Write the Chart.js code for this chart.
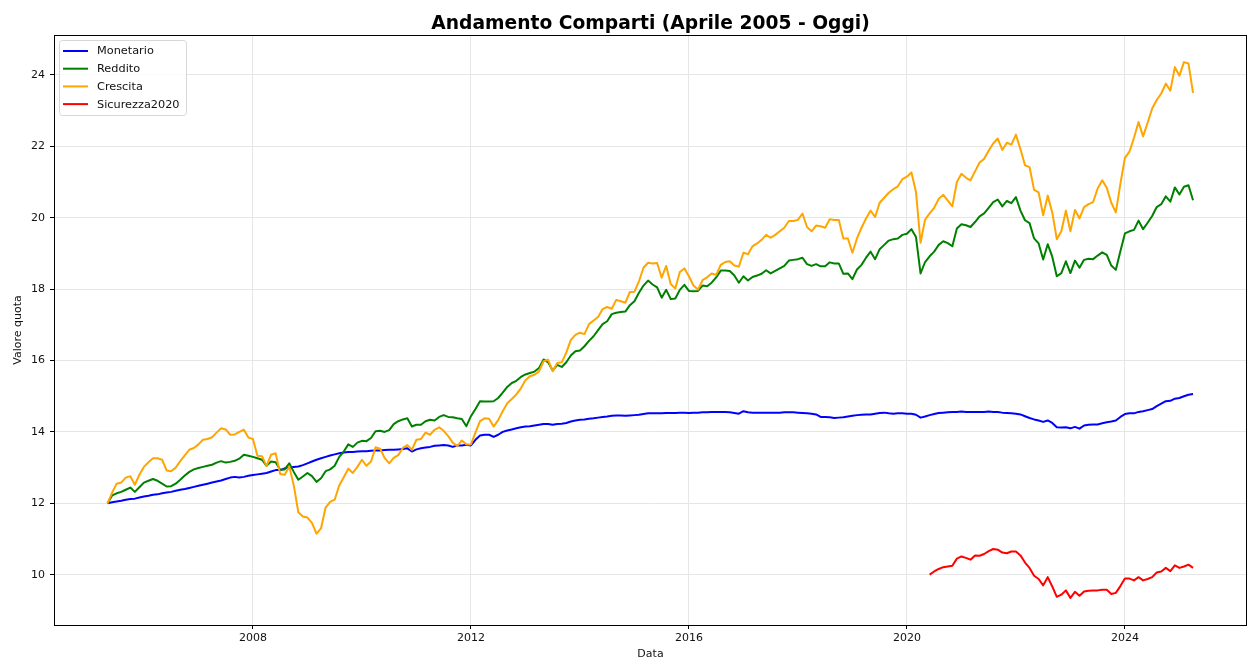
<!DOCTYPE html>
<html>
<head>
<meta charset="utf-8">
<script src="https://cdn.jsdelivr.net/npm/chart.js@4/dist/chart.umd.min.js"></script>
<style>
  html, body { margin: 0; padding: 0; background: #fff; }
  #wrap { width: 1250px; height: 660px; position: relative; }
</style>
</head>
<body>
<div id="wrap"><canvas id="comparti"></canvas></div>
<script>
// valori quota mensili, da aprile 2005 (una riga = 12 mesi)
const startYear = 2005;
const startMonth = 4;

const monetario = [
  12.00, 12.03, 12.05, 12.07, 12.10, 12.12, 12.13, 12.16, 12.19, 12.21, 12.24, 12.25,
  12.28, 12.30, 12.32, 12.35, 12.38, 12.40, 12.43, 12.46, 12.49, 12.52, 12.55, 12.58,
  12.61, 12.64, 12.68, 12.72, 12.74, 12.72, 12.74, 12.77, 12.79, 12.81, 12.83, 12.85,
  12.89, 12.93, 12.93, 12.98, 13.00, 13.02, 13.03, 13.07, 13.12, 13.17, 13.22, 13.26,
  13.30, 13.34, 13.37, 13.40, 13.42, 13.44, 13.44, 13.45, 13.46, 13.46, 13.47, 13.48,
  13.48, 13.49, 13.50, 13.50, 13.51, 13.52, 13.54, 13.45, 13.51, 13.54, 13.56, 13.58,
  13.61, 13.62, 13.63, 13.62, 13.58, 13.62, 13.62, 13.64, 13.62, 13.78, 13.90, 13.92,
  13.92, 13.86, 13.92, 14.00, 14.04, 14.07, 14.10, 14.13, 14.15, 14.16, 14.18, 14.20,
  14.22, 14.22, 14.20, 14.22, 14.23, 14.25, 14.29, 14.32, 14.34, 14.35, 14.37, 14.38,
  14.40, 14.42, 14.43, 14.45, 14.46, 14.46, 14.45, 14.46, 14.47, 14.48, 14.50, 14.52,
  14.52, 14.52, 14.52, 14.53, 14.53, 14.53, 14.54, 14.54, 14.53, 14.54, 14.54, 14.55,
  14.55, 14.56, 14.56, 14.56, 14.56, 14.55, 14.53, 14.51, 14.58, 14.55, 14.54, 14.54,
  14.54, 14.54, 14.54, 14.54, 14.54, 14.55, 14.55, 14.55, 14.54, 14.53, 14.52, 14.51,
  14.49, 14.42, 14.42, 14.41, 14.39, 14.40, 14.41, 14.43, 14.45, 14.47, 14.48, 14.49,
  14.49, 14.51, 14.53, 14.54, 14.52, 14.51, 14.52, 14.52, 14.51, 14.51, 14.48, 14.40,
  14.43, 14.47, 14.50, 14.53, 14.54, 14.55, 14.56, 14.56, 14.57, 14.56, 14.56, 14.56,
  14.56, 14.56, 14.57, 14.56, 14.56, 14.54, 14.53, 14.52, 14.51, 14.49, 14.44, 14.39,
  14.35, 14.32, 14.28, 14.32, 14.25, 14.13, 14.12, 14.13, 14.10, 14.14, 14.09, 14.18,
  14.20, 14.21, 14.21, 14.24, 14.27, 14.29, 14.32, 14.42, 14.50, 14.52, 14.52, 14.56,
  14.58, 14.61, 14.64, 14.72, 14.79, 14.86, 14.87, 14.93, 14.95, 15.00, 15.04, 15.06
];

const reddito = [
  12.00, 12.22, 12.28, 12.32, 12.38, 12.44, 12.32, 12.45, 12.58, 12.63, 12.68, 12.63,
  12.55, 12.47, 12.48, 12.55, 12.66, 12.78, 12.88, 12.95, 12.99, 13.02, 13.05, 13.08,
  13.14, 13.18, 13.14, 13.16, 13.19, 13.25, 13.36, 13.33, 13.30, 13.26, 13.22, 13.05,
  13.17, 13.15, 12.94, 12.95, 13.12, 12.88, 12.66, 12.75, 12.85, 12.76, 12.60, 12.70,
  12.90, 12.95, 13.05, 13.30, 13.45, 13.65, 13.58, 13.70, 13.75, 13.74, 13.83, 14.02,
  14.03, 14.00, 14.05, 14.22, 14.30, 14.35, 14.38, 14.15, 14.20, 14.20, 14.30, 14.34,
  14.32, 14.42, 14.47, 14.42, 14.41, 14.38, 14.36, 14.16, 14.44, 14.64, 14.86, 14.85,
  14.85, 14.86, 14.95, 15.10, 15.26, 15.37, 15.43, 15.54, 15.61, 15.65, 15.69, 15.79,
  16.03, 15.95, 15.72, 15.88, 15.82, 15.95, 16.14, 16.26, 16.28, 16.40, 16.55, 16.68,
  16.85, 17.02, 17.10, 17.30, 17.34, 17.36, 17.37, 17.55, 17.66, 17.90, 18.10, 18.24,
  18.13, 18.05, 17.76, 17.98, 17.72, 17.74, 17.98, 18.12, 17.95, 17.94, 17.95, 18.10,
  18.08, 18.18, 18.33, 18.52, 18.52, 18.51, 18.38, 18.18, 18.36, 18.24, 18.34, 18.38,
  18.43, 18.53, 18.44, 18.51, 18.58, 18.65, 18.80, 18.82, 18.84, 18.88, 18.70, 18.65,
  18.70, 18.64, 18.64, 18.75, 18.72, 18.72, 18.43, 18.44, 18.28, 18.55, 18.68, 18.88,
  19.05, 18.84, 19.12, 19.24, 19.36, 19.40, 19.42, 19.52, 19.55, 19.68, 19.46, 18.44,
  18.76, 18.92, 19.05, 19.24, 19.34, 19.29, 19.20, 19.70, 19.82, 19.79, 19.74, 19.88,
  20.04, 20.12, 20.28, 20.44, 20.51, 20.32, 20.47, 20.41, 20.58, 20.20, 19.93, 19.85,
  19.42, 19.28, 18.83, 19.26, 18.91, 18.36, 18.45, 18.78, 18.45, 18.80, 18.60, 18.82,
  18.85, 18.84, 18.94, 19.03, 18.96, 18.66, 18.54, 19.06, 19.56, 19.62, 19.66, 19.92,
  19.68, 19.86, 20.05, 20.30, 20.38, 20.60, 20.45, 20.85, 20.65, 20.87, 20.91, 20.49
];

const crescita = [
  12.00, 12.30, 12.55, 12.58, 12.72, 12.76, 12.52, 12.80, 13.02, 13.15, 13.26, 13.26,
  13.22, 12.92, 12.90, 13.00, 13.18, 13.34, 13.50, 13.55, 13.65, 13.78, 13.80, 13.85,
  13.98, 14.10, 14.07, 13.92, 13.93, 14.00, 14.06, 13.84, 13.80, 13.33, 13.32, 13.05,
  13.36, 13.40, 12.82, 12.80, 13.03, 12.50, 11.75, 11.63, 11.60, 11.45, 11.15, 11.30,
  11.88, 12.04, 12.10, 12.50, 12.73, 12.97, 12.85, 13.02, 13.22, 13.05, 13.17, 13.57,
  13.53, 13.27, 13.12, 13.27, 13.35, 13.55, 13.63, 13.50, 13.78, 13.80, 13.98, 13.92,
  14.06, 14.13, 14.03, 13.88, 13.70, 13.60, 13.76, 13.65, 13.65, 13.98, 14.30, 14.38,
  14.37, 14.15, 14.33, 14.58, 14.80, 14.92, 15.05, 15.22, 15.45, 15.56, 15.60, 15.70,
  15.98, 16.02, 15.70, 15.93, 15.95, 16.22, 16.58, 16.72, 16.78, 16.74, 17.02, 17.12,
  17.22, 17.44, 17.50, 17.45, 17.70, 17.66, 17.62, 17.92, 17.93, 18.22, 18.60, 18.74,
  18.72, 18.73, 18.32, 18.65, 18.14, 18.02, 18.48, 18.58, 18.36, 18.10, 17.99, 18.25,
  18.33, 18.44, 18.40, 18.68, 18.76, 18.78, 18.66, 18.63, 19.02, 18.98, 19.20, 19.28,
  19.38, 19.52, 19.44, 19.52, 19.62, 19.72, 19.91, 19.91, 19.94, 20.12, 19.74, 19.62,
  19.78, 19.76, 19.72, 19.96, 19.94, 19.94, 19.42, 19.42, 19.02, 19.42, 19.72, 19.98,
  20.20, 20.02, 20.42, 20.56, 20.70, 20.80, 20.88, 21.08, 21.15, 21.27, 20.72, 19.30,
  19.95, 20.12, 20.28, 20.53, 20.64, 20.48, 20.32, 21.00, 21.23, 21.12, 21.05, 21.30,
  21.55, 21.65, 21.88, 22.08, 22.22, 21.90, 22.10, 22.05, 22.33, 21.92, 21.47, 21.42,
  20.78, 20.71, 20.07, 20.62, 20.15, 19.40, 19.62, 20.20, 19.62, 20.22, 19.98, 20.30,
  20.38, 20.44, 20.82, 21.05, 20.84, 20.42, 20.15, 20.95, 21.68, 21.85, 22.24, 22.68,
  22.28, 22.66, 23.06, 23.30, 23.48, 23.76, 23.56, 24.22, 23.98, 24.36, 24.32, 23.50
];

// Sicurezza2020 parte da maggio 2020
const sicurezzaStart = "2020-05";
const sicurezza2020 = [
  10.00, 10.09, 10.16, 10.21, 10.23, 10.25, 10.45, 10.51, 10.47, 10.42, 10.54, 10.53,
  10.58, 10.66, 10.72, 10.70, 10.62, 10.60, 10.65, 10.65, 10.54, 10.34, 10.19, 9.97,
  9.88, 9.70, 9.93, 9.67, 9.38, 9.44, 9.56, 9.35, 9.52, 9.41, 9.53, 9.55,
  9.56, 9.56, 9.58, 9.58, 9.46, 9.49, 9.68, 9.89, 9.89, 9.84, 9.93, 9.84,
  9.88, 9.93, 10.06, 10.09, 10.19, 10.10, 10.26, 10.19, 10.23, 10.28, 10.19
];

const xTicks = [2008, 2012, 2016, 2020, 2024];
const yTicks = [10, 12, 14, 16, 18, 20, 22, 24];

const FONT = "'DejaVu Sans', sans-serif";

// mesi "YYYY-MM" e posizione sull'asse in anni decimali (fine mese)
const mesi = monetario.map((_, i) => {
  const m = startMonth - 1 + i;
  return (startYear + Math.floor(m / 12)) + "-" + String((m % 12) + 1).padStart(2, "0");
});
function toX(mese) {
  const [y, m] = mese.split("-").map(Number);
  return y + m / 12;
}
const serie = (valori, inizio) => {
  const off = mesi.indexOf(inizio);
  return valori.map((v, i) => ({ x: toX(mesi[off + i]), y: v }));
};

const datasets = [
  { label: "Monetario", data: serie(monetario, mesi[0]), borderColor: "#0000ff", order: 4 },
  { label: "Reddito", data: serie(reddito, mesi[0]), borderColor: "#008000", order: 3 },
  { label: "Crescita", data: serie(crescita, mesi[0]), borderColor: "#ffa500", order: 2 },
  { label: "Sicurezza2020", data: serie(sicurezza2020, sicurezzaStart), borderColor: "#ff0000", order: 1 },
];

// titolo, cornice e legenda stile matplotlib
const extras = {
  id: "extras",
  afterDraw(chart) {
    const { ctx, chartArea: a } = chart;
    ctx.save();
    ctx.strokeStyle = "#000";
    ctx.lineWidth = 1;
    ctx.strokeRect(Math.round(a.left) + 0.5, Math.round(a.top) + 0.5,
      Math.round(a.right - a.left) - 1, Math.round(a.bottom - a.top));

    ctx.fillStyle = "#000";
    ctx.font = "bold 18.7px " + FONT;
    ctx.textAlign = "center";
    ctx.textBaseline = "alphabetic";
    ctx.fillText("Andamento Comparti (Aprile 2005 - Oggi)", (a.left + a.right) / 2, 29);

    // legenda
    const bx = a.left + 5, by = a.top + 5, bw = 127, bh = 75;
    ctx.beginPath();
    ctx.roundRect(bx + 0.5, by + 0.5, bw, bh, 3);
    ctx.fillStyle = "rgba(255,255,255,0.8)";
    ctx.fill();
    ctx.strokeStyle = "#d6d6d6";
    ctx.stroke();
    ctx.font = "11.3px " + FONT;
    ctx.textAlign = "left";
    ctx.textBaseline = "middle";
    chart.data.datasets.forEach((ds, i) => {
      const y = by + 11 + i * 17.7;
      ctx.strokeStyle = ds.borderColor;
      ctx.lineWidth = 2;
      ctx.beginPath();
      ctx.moveTo(bx + 4, y);
      ctx.lineTo(bx + 29, y);
      ctx.stroke();
      ctx.fillStyle = "#111";
      ctx.fillText(ds.label, bx + 38, y + 0.5);
    });
    ctx.restore();
  }
};

new Chart(document.getElementById("comparti"), {
  type: "line",
  data: { datasets: datasets },
  options: {
    responsive: true,
    maintainAspectRatio: false,
    devicePixelRatio: 1,
    animation: false,
    layout: { padding: { top: 35, right: 3, left: 0, bottom: 0 } },
    elements: {
      point: { radius: 0 },
      line: { borderWidth: 2, tension: 0, fill: false, borderJoinStyle: "round" },
    },
    scales: {
      x: {
        type: "linear",
        min: 2004.35,
        max: 2026.24,
        afterBuildTicks: (scale) => { scale.ticks = xTicks.map((v) => ({ value: v })); },
        afterFit: (scale) => { scale.height = 35; },
        ticks: {
          color: "#111",
          padding: 3,
          maxRotation: 0,
          font: { family: FONT, size: 11 },
          callback: (v) => String(v),
        },
        grid: { color: "#e6e6e6", lineWidth: 1, tickColor: "#000", tickLength: 4 },
        border: { display: false },
        title: {
          display: true,
          text: "Data",
          color: "#111",
          font: { family: FONT, size: 11, lineHeight: 1 },
          padding: { top: 0, bottom: 0 },
        },
      },
      y: {
        min: 8.59,
        max: 25.12,
        afterBuildTicks: (scale) => { scale.ticks = yTicks.map((v) => ({ value: v })); },
        afterFit: (scale) => { scale.width = 54; },
        ticks: {
          color: "#111",
          padding: 5,
          font: { family: FONT, size: 11 },
          callback: (v) => String(v),
        },
        grid: { color: "#e6e6e6", lineWidth: 1, tickColor: "#000", tickLength: 4 },
        border: { display: false },
        title: {
          display: true,
          text: "Valore quota",
          color: "#111",
          font: { family: FONT, size: 11, lineHeight: 1 },
          padding: { top: 12.5, bottom: 0 },
        },
      },
    },
    plugins: {
      legend: { display: false },
      tooltip: { enabled: false },
    },
  },
  plugins: [extras],
});
</script>
</body>
</html>
